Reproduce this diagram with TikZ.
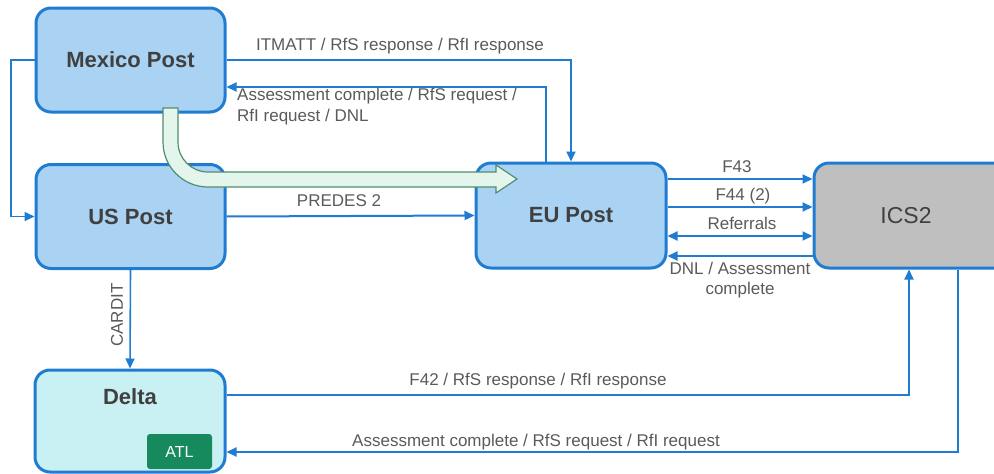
\documentclass[tikz,border=0pt]{standalone}
\usepackage{fontspec}
\setmainfont{Liberation Sans}
\usetikzlibrary{arrows.meta,calc}
\definecolor{boxblue}{HTML}{AAD2F3}
\definecolor{edgeblue}{HTML}{1F7CD1}
\definecolor{txtgray}{HTML}{404040}
\definecolor{lblgray}{HTML}{5A5A5A}
\definecolor{deltafill}{HTML}{C9F0F3}
\definecolor{icsgray}{HTML}{BFBFBF}
\definecolor{atlgreen}{HTML}{168A5C}
\definecolor{arrowfill}{HTML}{E4F5EC}
\definecolor{arrowedge}{HTML}{4E8E72}
\begin{document}
\begin{tikzpicture}[x=1pt,y=-1pt,
  box/.style={draw=edgeblue, line width=3pt, rounded corners=15pt, fill=boxblue,
    minimum width=189pt, minimum height=104pt, inner sep=0pt,
    font=\fontsize{22}{26}\selectfont\bfseries, text=txtgray},
  conn/.style={draw=edgeblue, line width=2pt, -{Triangle[length=10pt,width=9pt]}},
  lbl/.style={font=\fontsize{17}{20}\selectfont, text=lblgray, inner sep=0pt}]
\useasboundingbox (0,0) rectangle (994,474);

% boxes
\node[box] (mex) at (130.5,60) {Mexico Post};
\node[box] (us) at (130.5,216.5) {US Post};
\node[box, minimum width=190pt, minimum height=105pt] (eu) at (571,215.5) {EU Post};
\node[box, fill=icsgray, minimum width=200pt, minimum height=105pt] (ics) at (914,215.5) {};
\node[font=\fontsize{23}{26}\selectfont, text=txtgray, inner sep=0pt] (icstitle) at (906,215.5) {ICS2};
\node[box, fill=deltafill, minimum width=190pt, minimum height=102pt] (delta) at (130,421) {};
\node[font=\fontsize{22}{26}\selectfont\bfseries, text=txtgray, inner sep=0pt]
      (deltatitle) at (130,397) {Delta};
\node[fill=atlgreen, rounded corners=3pt, minimum width=65pt, minimum height=35pt,
      inner sep=0pt, text=white, font=\fontsize{16}{18}\selectfont] (atl) at (179.5,451.5) {ATL};

% connectors
\coordinate (loop) at (11,60);
\draw[conn, line width=1.6pt] (mex.west) -- (loop) |- (us.west);
\draw[conn] (mex.east) -| (eu.north);
\draw[conn] ($(eu.north)+(-25,0)$) |- ($(mex.east)+(0,27)$);
\draw[conn] (us.east) -- (eu.west);
\draw[conn, line width=1.6pt] (us.south) -- (delta.north);
\draw[conn] ($(eu.east)+(0,-36.5)$) -- ($(ics.west)+(0,-36.5)$);
\draw[conn] ($(eu.east)+(0,-8.5)$) -- ($(ics.west)+(0,-8.5)$);
\draw[conn, {Triangle[length=10pt,width=9pt]}-{Triangle[length=10pt,width=9pt]}]
   ($(eu.east)+(0,20.5)$) -- ($(ics.west)+(0,20.5)$);
\draw[conn] ($(ics.west)+(0,40.5)$) -- ($(eu.east)+(0,40.5)$);
\draw[conn] ($(delta.east)+(0,-26)$) -| ($(ics.south)+(-5,0)$);
\draw[conn] ($(ics.south)+(44,0)$) |- ($(delta.east)+(0,31)$);

% labels
\node[lbl] (l1) at (400,46) {ITMATT / RfS response / RfI response};
\node[lbl, anchor=north west, align=left, font=\fontsize{17}{21}\selectfont] (l2) at (237,88)
   {Assessment complete / RfS request /\\RfI request / DNL};
\node[lbl] (l3) at (339,201) {PREDES 2};
\node[lbl] (l4) at (737,167) {F43};
\node[lbl] (l5) at (743,196) {F44 (2)};
\node[lbl] (l6) at (742,223) {Referrals};
\node[lbl, align=center, font=\fontsize{17}{20}\selectfont] (l7) at (740,280) {DNL / Assessment\\complete};
\node[lbl, rotate=90] (l8) at (117,315) {CARDIT};
\node[lbl] (l9) at (538,381) {F42 / RfS response / RfI response};
\node[lbl] (l10) at (536,442) {Assessment complete / RfS request / RfI request};

% big curved arrow
\draw[fill=arrowfill, draw=arrowedge, line width=1.2pt, line join=miter]
  (163,108) -- (163,142) .. controls (163,166.9) and (183.1,187) .. (208,187)
  -- (496,187) -- (496,193) -- (517,179) -- (496,165) -- (496,172) -- (208,172)
  .. controls (191.4,172) and (178,158.6) .. (178,142) -- (178,108) -- cycle;
\end{tikzpicture}
\end{document}
